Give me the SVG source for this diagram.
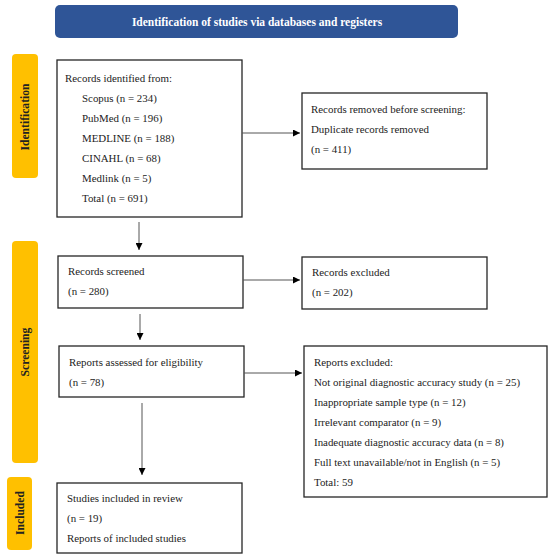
<svg xmlns="http://www.w3.org/2000/svg" width="550" height="558" viewBox="0 0 550 558">
<style>
.box{fill:#fff;stroke:#262626;stroke-width:1.3}
.bar{fill:#FFC000}
.t{font-family:"Liberation Serif",serif;font-size:10.9px;fill:#222}
.bt{font-family:"Liberation Serif",serif;font-size:11.6px;font-weight:bold;fill:#222;text-anchor:middle}
.c{stroke:#555;stroke-width:1;fill:none}
</style>
<defs>
<marker id="ah" viewBox="0 0 10 10" refX="10" refY="5" markerWidth="7" markerHeight="7" markerUnits="userSpaceOnUse" orient="auto">
<path d="M0,0 L10,5 L0,10 z" fill="#000"/>
</marker>
</defs>
<rect width="550" height="558" fill="#fff"/>
<g id="header">
<rect x="55" y="5" width="403" height="33" rx="5" fill="#2F5597"/>
<text x="257" y="25.5" font-family="Liberation Serif,serif" font-size="11.5" font-weight="bold" fill="#fff" text-anchor="middle">Identification of studies via databases and registers</text>
</g>
<g id="bar-identification">
<rect class="bar" x="12" y="54" width="26" height="124" rx="4"/>
<text class="bt" transform="translate(29,117) rotate(-90)">Identification</text>
</g>
<g id="bar-screening">
<rect class="bar" x="12" y="241" width="26" height="222" rx="4"/>
<text class="bt" transform="translate(29,352) rotate(-90)">Screening</text>
</g>
<g id="bar-included">
<rect class="bar" x="7" y="477" width="25" height="73" rx="4"/>
<text class="bt" transform="translate(24,513) rotate(-90)">Included</text>
</g>
<g id="identified">
<rect class="box" x="57" y="60" width="185" height="157"/>
<text class="t" x="65" y="82">Records identified from:</text>
<text class="t" x="82" y="102">Scopus (n = 234)</text>
<text class="t" x="82" y="122">PubMed (n = 196)</text>
<text class="t" x="82" y="142">MEDLINE (n = 188)</text>
<text class="t" x="82" y="162">CINAHL (n = 68)</text>
<text class="t" x="82" y="182">Medlink (n = 5)</text>
<text class="t" x="82" y="202">Total (n = 691)</text>
</g>
<g id="removed">
<rect class="box" x="302" y="93" width="185" height="76"/>
<text class="t" x="311" y="113">Records removed before screening:</text>
<text class="t" x="311" y="133">Duplicate records removed</text>
<text class="t" x="311" y="153">(n = 411)</text>
</g>
<g id="screened">
<rect class="box" x="58" y="256" width="185" height="52"/>
<text class="t" x="68" y="275">Records screened</text>
<text class="t" x="68" y="295">(n = 280)</text>
</g>
<g id="excluded">
<rect class="box" x="302" y="257" width="185" height="52"/>
<text class="t" x="312" y="276">Records excluded</text>
<text class="t" x="312" y="296">(n = 202)</text>
</g>
<g id="assessed">
<rect class="box" x="59" y="346" width="185" height="51"/>
<text class="t" x="69" y="366">Reports assessed for eligibility</text>
<text class="t" x="69" y="386">(n = 78)</text>
</g>
<g id="reports-excluded">
<rect class="box" x="304" y="346" width="243" height="151"/>
<text class="t" x="314" y="366">Reports excluded:</text>
<text class="t" x="314" y="386">Not original diagnostic accuracy study (n = 25)</text>
<text class="t" x="314" y="406">Inappropriate sample type (n = 12)</text>
<text class="t" x="314" y="426">Irrelevant comparator (n = 9)</text>
<text class="t" x="314" y="446">Inadequate diagnostic accuracy data (n = 8)</text>
<text class="t" x="314" y="466">Full text unavailable/not in English (n = 5)</text>
<text class="t" x="314" y="486">Total: 59</text>
</g>
<g id="included">
<rect class="box" x="57" y="483" width="185" height="70"/>
<text class="t" x="67" y="502">Studies included in review</text>
<text class="t" x="67" y="522">(n = 19)</text>
<text class="t" x="67" y="542">Reports of included studies</text>
</g>
<g id="connectors">
<line class="c" x1="242" y1="133" x2="300" y2="133" marker-end="url(#ah)"/>
<line class="c" x1="139" y1="222" x2="139" y2="250" marker-end="url(#ah)"/>
<line class="c" x1="243" y1="280" x2="300" y2="280" marker-end="url(#ah)"/>
<line class="c" x1="140" y1="314" x2="140" y2="340" marker-end="url(#ah)"/>
<line class="c" x1="244" y1="373" x2="302" y2="373" marker-end="url(#ah)"/>
<line class="c" x1="142" y1="403" x2="142" y2="475" marker-end="url(#ah)"/>
</g>
</svg>
